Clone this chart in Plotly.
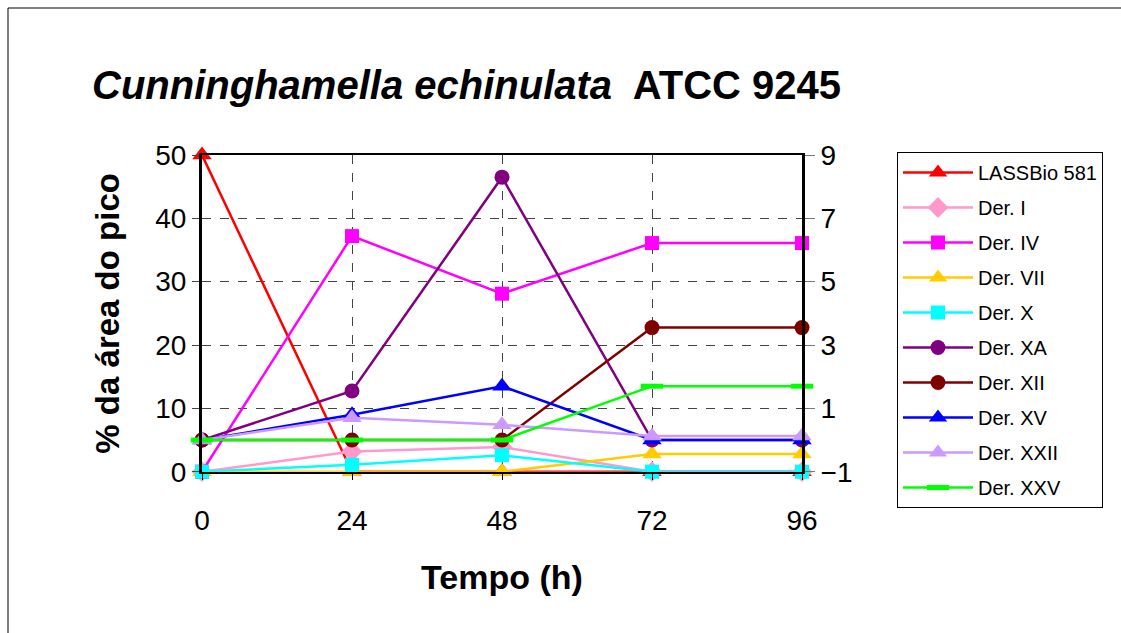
import plotly.graph_objects as go

# Sampling times (h)
tempo = [0, 24, 48, 72, 96]

# Series on the left axis (% da área do pico)
lassbio_581 = [50, 0, 0, 0, 0]
der_i = [0, 3.2, 3.9, 0, 0]
der_iv = [0, 37.2, 28.1, 36.1, 36.1]
der_vii = [0, 0, 0, 2.8, 2.8]
der_x = [0, 1.1, 2.6, 0, 0]

# Series on the right axis
der_xa = [0, 1.55, 8.3, 0, 0]
der_xii = [0, 0, 0, 3.55, 3.55]
der_xv = [0, 0.8, 1.7, 0, 0]
der_xxii = [0, 0.7, 0.48, 0.13, 0.13]
der_xxv = [0, 0, 0, 1.7, 1.7]

left_ticks = [0, 10, 20, 30, 40, 50]
right_ticks = [-1, 1, 3, 5, 7, 9]

W, H = 1121, 633
FONT = "Arial, Liberation Sans, sans-serif"

# plot-area box in pixels
PX_L, PX_R, PX_T, PX_B = 202, 802, 155, 471.7

series = [
    ("LASSBio 581", lassbio_581, "#FF0000", "triangle-up", 17, "y"),
    ("Der. I", der_i, "#FF99CC", "diamond", 16, "y"),
    ("Der. IV", der_iv, "#FF00FF", "square", 14, "y"),
    ("Der. VII", der_vii, "#FFCC00", "triangle-up", 17, "y"),
    ("Der. X", der_x, "#00FFFF", "square", 14, "y"),
    ("Der. XA", der_xa, "#800080", "circle", 15, "y2"),
    ("Der. XII", der_xii, "#800000", "circle", 15, "y2"),
    ("Der. XV", der_xv, "#0000FF", "triangle-up", 17, "y2"),
    ("Der. XXII", der_xxii, "#CC99FF", "triangle-up", 17, "y2"),
    ("Der. XXV", der_xxv, "#00FF00", "line-ew", 16, "y2"),
]

fig = go.Figure()
for i, (name, vals, color, symbol, size, yax) in enumerate(series):
    if symbol == "line-ew":
        marker = dict(symbol=symbol, size=size, color=color,
                      line=dict(color=color, width=5))
    else:
        marker = dict(symbol=symbol, size=size, color=color, line=dict(width=0))
    fig.add_trace(go.Scatter(
        x=tempo, y=vals, name=name, yaxis=yax,
        mode="lines+markers", line=dict(color=color, width=2.5),
        marker=marker, cliponaxis=False, legendgroup=f"g{i}",
    ))

fig.update_layout(
    width=W, height=H,
    margin=dict(l=0, r=0, t=0, b=0, autoexpand=False),
    paper_bgcolor="white", plot_bgcolor="white",
    font=dict(family=FONT, color="black"),
    showlegend=True,
    legend=dict(
        x=897 / W, y=1 - 152 / H, xanchor="left", yanchor="top",
        bgcolor="white", bordercolor="black", borderwidth=1,
        font=dict(size=20, family=FONT), itemwidth=70,
        tracegroupgap=6,
    ),
    xaxis=dict(
        domain=[PX_L / W, PX_R / W],
        range=[0, 96], tickvals=tempo, ticktext=[str(t) for t in tempo],
        showline=True, linecolor="black", linewidth=2, mirror=True,
        ticks="outside", ticklen=6, tickcolor="black",
        showgrid=True, gridcolor="#444444", griddash="dash", gridwidth=1,
        zeroline=False, tickfont=dict(size=28), ticklabelstandoff=17,
        title=dict(text="<b>Tempo (h)</b>", font=dict(size=34), standoff=30),
    ),
    yaxis=dict(
        domain=[1 - PX_B / H, 1 - PX_T / H],
        range=[0, 50], tickvals=left_ticks,
        showline=True, linecolor="black", linewidth=3,
        ticks="outside", ticklen=7, tickcolor="#444444",
        showgrid=True, gridcolor="#444444", griddash="dash", gridwidth=1,
        zeroline=False, tickfont=dict(size=28),
        title=dict(text="<b>% da área do pico</b>", font=dict(size=33), standoff=26),
    ),
    yaxis2=dict(
        overlaying="y", side="right", anchor="x",
        range=[-1, 9], tickvals=right_ticks,
        showline=True, linecolor="black", linewidth=3,
        ticks="outside", ticklen=10, tickcolor="#777777",
        showgrid=False, zeroline=False, tickfont=dict(size=28),
    ),
)

# chart title
fig.add_annotation(
    text="<b><i>Cunninghamella echinulata</i>\u00a0 ATCC 9245</b>",
    x=466 / W, y=1 - 85 / H, xref="paper", yref="paper",
    xanchor="center", yanchor="middle", showarrow=False,
    font=dict(size=40, family=FONT, color="black"),
)

# outer frame (top and left edges)
fig.add_shape(type="line", xref="paper", yref="paper",
              x0=8 / W, x1=1, y0=1 - 8 / H, y1=1 - 8 / H,
              line=dict(color="black", width=1))
fig.add_shape(type="line", xref="paper", yref="paper",
              x0=8 / W, x1=8 / W, y0=0, y1=1 - 8 / H,
              line=dict(color="black", width=1))

fig.write_html("out.html")
